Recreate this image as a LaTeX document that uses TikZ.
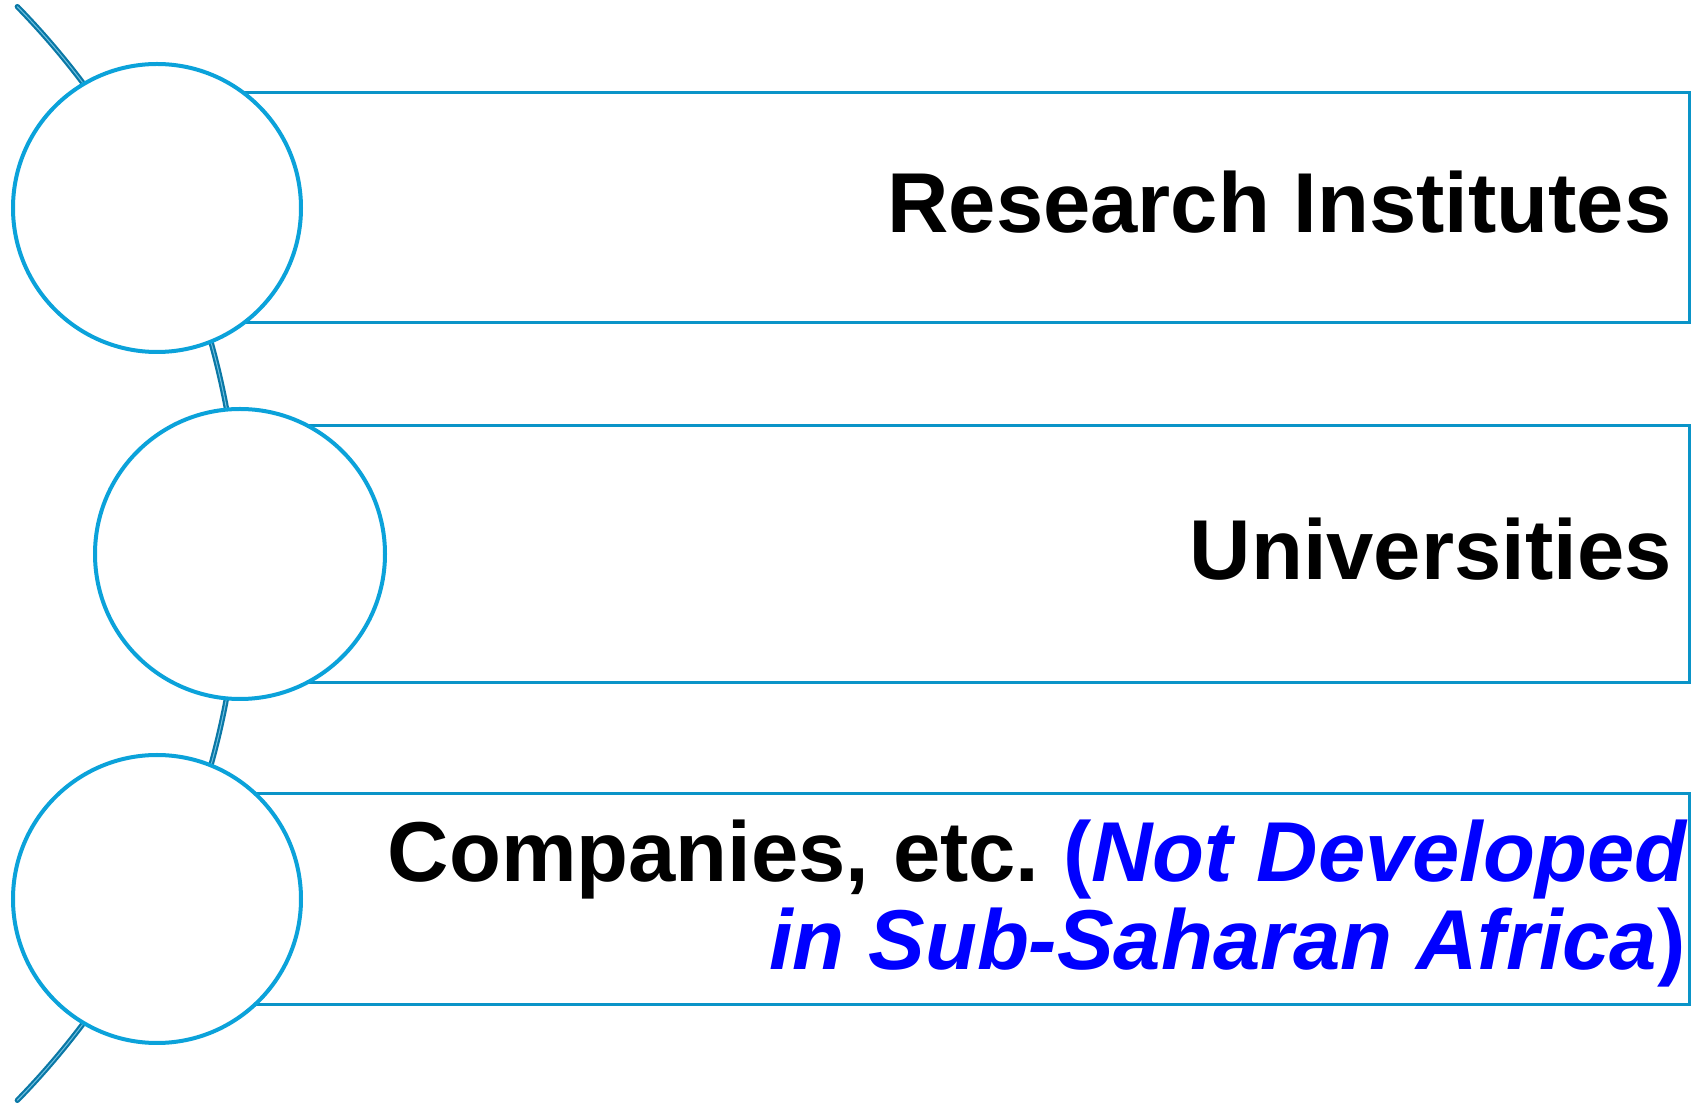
\documentclass[tikz,border=0pt]{standalone}
\usepackage{fontspec}
\setmainfont{Liberation Sans}
\begin{document}
\definecolor{ringblue}{HTML}{0BA2DA}
\definecolor{bandblue}{HTML}{0A94C8}
\definecolor{spine}{HTML}{0A78A6}
\definecolor{spinelight}{HTML}{6FC0E0}
\definecolor{noteblue}{HTML}{0000FF}
\begin{tikzpicture}[x=0.5pt,y=0.5pt,
  band/.style={draw=bandblue, line width=1.5pt, fill=white, rectangle,
    inner sep=0pt, outer sep=0pt, anchor=south west},
  ring/.style={draw=ringblue, line width=2pt, fill=white, circle,
    inner sep=0pt, outer sep=0pt},
  caption/.style={inner sep=0pt, anchor=base east,
    font=\fontsize{42.5}{46}\selectfont\bfseries}]
\useasboundingbox (0,0) rectangle (1699,1104);

% curved spine behind the rings
\draw[draw=spine, double=spinelight, double distance=0.5pt, line width=1.1pt, line cap=round]
  (-543,550.5) ++(44.3:783) arc[start angle=44.3, end angle=-44.3, radius=783];

% bands
\node[band, minimum width=766pt, minimum height=115pt] (b1) at (157,781) {};
\node[band, minimum width=724.5pt, minimum height=128.5pt] (b2) at (240,421) {};
\node[band, minimum width=766pt, minimum height=105.5pt] (b3) at (157,99) {};

% rings
\node[ring, minimum size=144pt] (c1) at (157,896) {};
\node[ring, minimum size=145pt] (c2) at (240,550) {};
\node[ring, minimum size=144pt] (c3) at (157,205) {};

% captions
\node[caption] (t1) at (1672,871) {Research Institutes};
\node[caption] (t2) at (1672,524) {Universities};
\node[caption] (t3a) at (1687,222) {Companies, etc.\ {\color{noteblue}(\itshape Not Developed}};
\node[caption] (t3b) at (1686,134) {\color{noteblue}\itshape in Sub-Saharan Africa\upshape)};
\end{tikzpicture}
\end{document}
